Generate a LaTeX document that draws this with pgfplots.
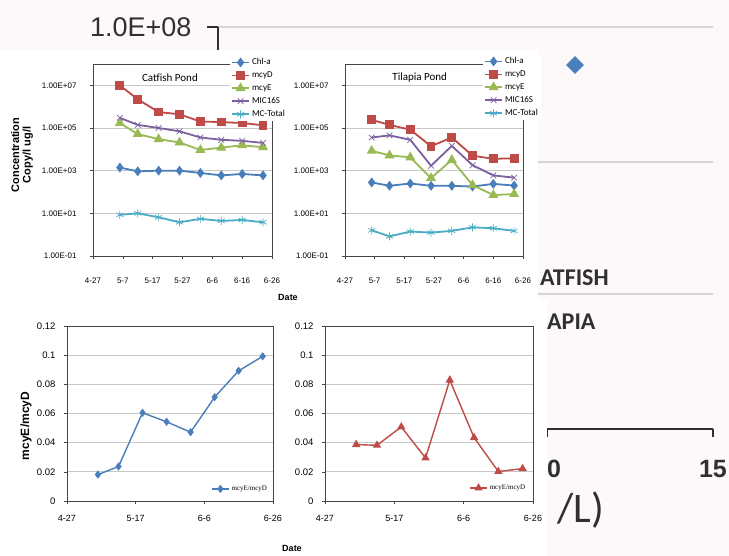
\documentclass[border=0pt]{standalone}
\usepackage{fontspec}
\setmainfont{Liberation Sans}
\newfontfamily\calfont{Carlito}
\newfontfamily\serfont{Liberation Serif}
\usepackage{pgfplots}
\pgfplotsset{compat=1.18}
\definecolor{bgpink}{RGB}{253,249,250}
\definecolor{cblue}{RGB}{74,126,187}
\definecolor{cred}{RGB}{190,75,72}
\definecolor{cgreen}{RGB}{152,185,84}
\definecolor{cpurple}{RGB}{125,96,160}
\definecolor{ccyan}{RGB}{75,172,198}
\definecolor{gridgray}{RGB}{200,200,200}
\definecolor{bggrid}{RGB}{212,212,212}
\definecolor{boxgray}{RGB}{70,70,70}
\definecolor{darktext}{RGB}{48,48,48}
\pgfplotsset{
  toppanel/.style={
    scale only axis, width=179pt, height=192pt,
    ymin=0.1, ymax=1e8, xmin=0, xmax=60,
    xtick={0,10,...,60}, xticklabels={4-27,5-7,5-17,5-27,6-6,6-16,6-26},
    ytick={1e-1,1e1,1e3,1e5,1e7},
    yticklabels={1.00E-01,1.00E+01,1.00E+03,1.00E+05,1.00E+07},
    yminorticks=false,
    ymajorgrids, grid style={gridgray, line width=0.8pt},
    axis line style={boxgray, line width=0.9pt},
    tick align=outside, major tick length=3pt, tick style={boxgray, line width=0.6pt},
    tick pos=left,
    /pgf/number format/assume math mode=true,
    xticklabel style={font=\fontsize{8}{9}\selectfont, yshift=-15pt},
    yticklabel style={font=\fontsize{8}{9}\selectfont, xshift=-10pt},
    legend style={draw=none, fill=white, font=\calfont\fontsize{9}{10}\selectfont,
      inner sep=1pt, anchor=north west, row sep=1.5pt},
    legend cell align=left,
    every axis plot/.append style={line width=1.8pt},
  },
  bottompanel/.style={
    scale only axis, height=175pt,
    xmin=0, xmax=60, ymin=0, ymax=0.12,
    xtick={0,20,40,60}, xticklabels={4-27,5-17,6-6,6-26},
    ytick={0,0.02,0.04,0.06,0.08,0.1,0.12},
    yticklabels={0,0.02,0.04,0.06,0.08,0.1,0.12},
    ymajorgrids, grid style={gridgray, line width=0.8pt},
    axis line style={boxgray, line width=0.8pt},
    tick align=outside, major tick length=3pt, tick style={boxgray, line width=0.6pt},
    tick pos=left,
    /pgf/number format/assume math mode=true,
    xticklabel style={font=\fontsize{9}{10}\selectfont, yshift=-8pt},
    yticklabel style={font=\fontsize{9.5}{10}\selectfont, xshift=-5pt},
    legend style={draw=none, fill=white, font=\serfont\fontsize{7}{8}\selectfont,
      inner sep=1pt, anchor=west},
    every axis plot/.append style={line width=1.4pt},
  },
}
\begin{document}
\begin{tikzpicture}
\useasboundingbox (0,0) rectangle (729pt,556pt);
\fill[bgpink] (0,0) rectangle (729pt,556pt);
% background chart
\begin{axis}[at={(218pt,0pt)}, anchor=south west, scale only axis,
  width=495pt, height=529pt, xmin=218, xmax=713, ymin=0, ymax=529,
  axis x line=none, axis y line*=left, xtick=\empty,
  ytick={262,394,529}, yticklabels={,,1.0E+08},
  ymajorgrids, grid style={bggrid, line width=1.6pt},
  y axis line style={-, darktext, line width=2.5pt},
  tick align=outside, major tick length=11pt,
  ytick style={darktext, line width=2.5pt},
  yticklabel style={font=\fontsize{27}{29}\selectfont, text=darktext, xshift=-12pt},
  clip=false]
\addplot[only marks, mark=square*, mark size=6pt,
  mark options={rotate=45, fill=cblue, draw=cblue}] coordinates {(575,491)};
\end{axis}
\begin{axis}[at={(547pt,127pt)}, anchor=south west, scale only axis,
  width=166pt, height=10pt, xmin=10, xmax=15, ymin=0, ymax=1,
  axis x line*=bottom, axis y line=none, ytick=\empty,
  xtick={10,15}, xticklabels={10,15},
  x axis line style={-, darktext, line width=2.5pt},
  tick align=outside, major tick length=8pt,
  xtick style={darktext, line width=2.5pt},
  xticklabel style={font=\bfseries\fontsize{25}{27}\selectfont, text=darktext, yshift=-20pt}]
\addplot[draw=none] coordinates {(10,0) (15,0)};
\end{axis}
\node[anchor=west, inner sep=0pt, font=\calfont\bfseries\fontsize{24}{26}\selectfont, text=darktext] at (540pt,278pt) {ATFISH};
\node[anchor=west, inner sep=0pt, font=\calfont\bfseries\fontsize{24}{26}\selectfont, text=darktext] at (547pt,234pt) {APIA};
\node[anchor=east, inner sep=0pt, font=\calfont\fontsize{42}{44}\selectfont, text=darktext] at (604pt,46pt) {/L)};
% white panels
\fill[white] (0pt,256pt) rectangle (538pt,506pt);
\fill[white] (0pt,0pt) rectangle (547pt,256pt);
% top-left: Catfish
\begin{axis}[ymode=log, toppanel, at={(93pt,300pt)}, anchor=south west,
  legend style={at={(0.765,1.045)}}]
\addplot[cblue, mark=diamond*, mark size=3.5pt] coordinates {(9,1400) (15,930) (22,1000) (29,1000) (36,780) (43,600) (50,700) (57,600)};
\addlegendentry{Chl-a}
\addplot[cred, mark=square*, mark size=3.5pt] coordinates {(9,1.0e7) (15,2.2e6) (22,5.6e5) (29,4.4e5) (36,2.0e5) (43,1.9e5) (50,1.7e5) (57,1.35e5)};
\addlegendentry{mcyD}
\addplot[cgreen, mark=triangle*, mark size=4pt] coordinates {(9,1.7e5) (15,5.2e4) (22,3.0e4) (29,2.1e4) (36,9.3e3) (43,1.2e4) (50,1.55e4) (57,1.25e4)};
\addlegendentry{mcyE}
\addplot[cpurple, mark=x, mark size=4pt, mark options={line width=0.7pt}] coordinates {(9,3.0e5) (15,1.4e5) (22,1.0e5) (29,7.0e4) (36,3.6e4) (43,2.8e4) (50,2.5e4) (57,2.0e4)};
\addlegendentry{MIC16S}
\addplot[ccyan, mark=asterisk, mark size=4pt, mark options={line width=0.7pt}] coordinates {(9,8.5) (15,10) (22,6.5) (29,3.8) (36,5.5) (43,4.4) (50,4.9) (57,3.8)};
\addlegendentry{MC-Total}
\node[font=\calfont\fontsize{11}{12}\selectfont] at (rel axis cs:0.43,0.927) {Catfish Pond};
\end{axis}
% top-right: Tilapia
\begin{axis}[ymode=log, toppanel, at={(345pt,300pt)}, anchor=south west, width=178pt,
  legend style={at={(0.775,1.05)}}]
\addplot[cblue, mark=diamond*, mark size=3.5pt] coordinates {(9,280) (15,195) (22,250) (29,195) (36,195) (43,180) (50,240) (57,200)};
\addlegendentry{Chl-a}
\addplot[cred, mark=square*, mark size=3.5pt] coordinates {(9,2.4e5) (15,1.4e5) (22,8.3e4) (29,1.4e4) (36,3.6e4) (43,5.0e3) (50,3.6e3) (57,3.8e3)};
\addlegendentry{mcyD}
\addplot[cgreen, mark=triangle*, mark size=4pt] coordinates {(9,8.5e3) (15,5.2e3) (22,4.2e3) (29,450) (36,3.2e3) (43,210) (50,72) (57,80)};
\addlegendentry{mcyE}
\addplot[cpurple, mark=x, mark size=4pt, mark options={line width=0.7pt}] coordinates {(9,3.6e4) (15,4.5e4) (22,2.8e4) (29,1.7e3) (36,1.45e4) (43,1.8e3) (50,600) (57,470)};
\addlegendentry{MIC16S}
\addplot[ccyan, mark=asterisk, mark size=4pt, mark options={line width=0.7pt}] coordinates {(9,1.6) (15,0.83) (22,1.4) (29,1.25) (36,1.5) (43,2.2) (50,2.0) (57,1.5)};
\addlegendentry{MC-Total}
\node[font=\calfont\fontsize{11}{12}\selectfont] at (rel axis cs:0.42,0.927) {Tilapia Pond};
\end{axis}
% bottom-left
\begin{axis}[bottompanel, at={(67pt,55pt)}, anchor=south west, width=206pt,
  legend style={at={(0.694,0.069)}}]
\addplot[cblue, mark=diamond*, mark size=3pt] coordinates {(9,0.0181) (15,0.0236) (22,0.0605) (29,0.0543) (36,0.0472) (43,0.0712) (50,0.0893) (57,0.0992)};
\addlegendentry{mcyE/mcyD}
\end{axis}
% bottom-right
\begin{axis}[bottompanel, at={(325pt,55pt)}, anchor=south west, width=208pt,
  legend style={at={(0.688,0.074)}}]
\addplot[cred, mark=triangle*, mark size=3.5pt] coordinates {(9,0.0387) (15,0.0382) (22,0.0508) (29,0.0295) (36,0.0829) (43,0.0435) (50,0.0202) (57,0.0222)};
\addlegendentry{mcyE/mcyD}
\end{axis}
% axis labels
\node[rotate=90, align=center, font=\bfseries\fontsize{11}{11.5}\selectfont] at (22pt,401pt) {Concentration\\Copy/l ug/l};
\node[rotate=90, font=\bfseries\fontsize{12}{13}\selectfont] at (26pt,130pt) {mcyE/mcyD};
\node[font=\bfseries\fontsize{9}{10}\selectfont] at (288pt,259pt) {Date};
\node[font=\bfseries\fontsize{9}{10}\selectfont] at (292pt,8pt) {Date};
\end{tikzpicture}
\end{document}
